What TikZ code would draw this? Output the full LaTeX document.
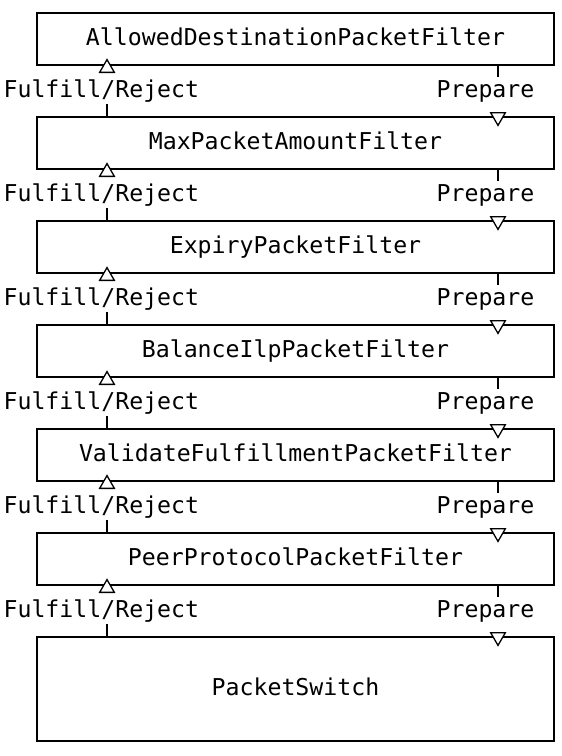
\documentclass[tikz,border=0pt]{standalone}
\usepackage{fontspec}
\setmonofont{DejaVu Sans Mono}
\usetikzlibrary{shapes.geometric}
\tikzset{
    filter-box/.style = {draw, rectangle, minimum width=517pt, minimum height=52pt, inner sep=0pt, text height=17pt, text depth=5pt},
    flow-label/.style = {inner xsep=0pt, inner ysep=2pt},
    up-head/.style = {draw, fill=white, line width=1.3pt, regular polygon, regular polygon sides=3, minimum size=17pt, inner sep=0pt},
    down-head/.style = {up-head, shape border rotate=180},
}
\begin{document}
\begin{tikzpicture}[x=1pt, y=-1pt, line width=1.2pt, font=\ttfamily\fontsize{23.2}{27}\selectfont]
\useasboundingbox (0,0) rectangle (562,756);
\node [filter-box] (allowed) at (295.5,39) {AllowedDestinationPacketFilter};
\node [filter-box] (maxamount) at (295.5,143) {MaxPacketAmountFilter};
\node [filter-box] (expiry) at (295.5,247) {ExpiryPacketFilter};
\node [filter-box] (balance) at (295.5,351) {BalanceIlpPacketFilter};
\node [filter-box] (validate) at (295.5,455) {ValidateFulfillmentPacketFilter};
\node [filter-box] (peer) at (295.5,559) {PeerProtocolPacketFilter};
\node [filter-box, minimum height=104pt] (switch) at (295.5,689) {PacketSwitch};
\coordinate (back) at (107,0);
\coordinate (forth) at (498,0);
\foreach \upper/\lower/\y [count=\n] in {allowed/maxamount/97, maxamount/expiry/201, expiry/balance/305, balance/validate/409, validate/peer/513, peer/switch/617} {
    \node [flow-label, anchor=base west] (fulfill\n) at (3,\y) {Fulfill/Reject};
    \node [flow-label, anchor=base west] (prepare\n) at (436,\y) {Prepare};
    \draw (back |- fulfill\n.south) -- (back |- \lower.north);
    \draw (forth |- \upper.south) -- (forth |- prepare\n.north);
    \node [up-head, yshift=-2.5pt] at (back |- \upper.south) {};
    \node [down-head, yshift=-0.5pt] at (forth |- \lower.north) {};
}
\end{tikzpicture}
\end{document}
